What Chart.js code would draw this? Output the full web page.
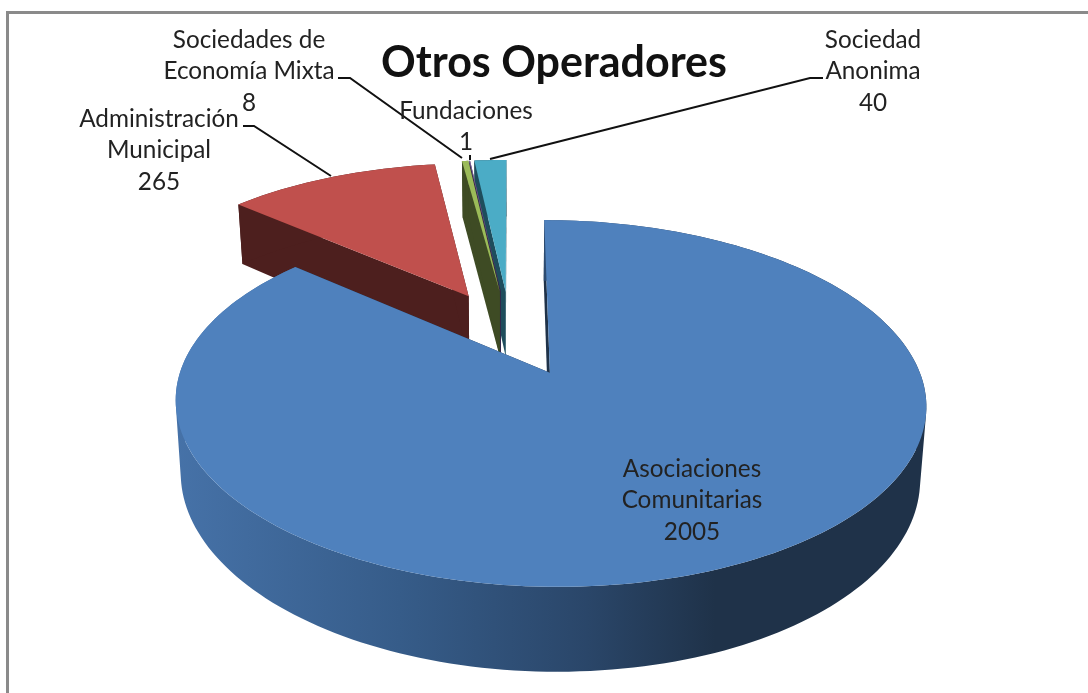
<!DOCTYPE html>
<html>
<head>
<meta charset="utf-8">
<style>
    html, body { margin: 0; padding: 0; background: #fff; }
    canvas { display: block; }
</style>
<script src="https://cdn.jsdelivr.net/npm/chart.js@4"></script>
</head>
<body>
<canvas id="chartCanvas" width="1088" height="693"></canvas>
<script>
const chartTitle = 'Otros Operadores';
const categories = [
    ['Asociaciones', 'Comunitarias'],
    ['Administración', 'Municipal'],
    ['Sociedades de', 'Economía Mixta'],
    ['Fundaciones'],
    ['Sociedad', 'Anonima']
];
const values = [2005, 265, 8, 1, 40];
const topColors = ['#4f81bd', '#c0504d', '#9bbb59', '#8064a2', '#4bacc6'];
const wallColors = ['#1f3249', '#4d1f1e', '#3e4b24', '#33284a', '#1e4d5c'];

// donde va cada etiqueta (centro de la primera linea) y su linea guia
const labelSpots = [
    { x: 692, y: 469, line: null },
    { x: 159, y: 119, line: [[243, 126], [254, 126], [331, 176]] },
    { x: 249, y: 40, line: [[338, 78], [350, 78], [462, 158]] },
    { x: 466, y: 111, line: [[470, 155], [470, 160]] },
    { x: 873, y: 40, line: [[823, 78], [810, 78], [490, 159]] }
];
const lineGap = 31.5;
// orden de pintado, de atras hacia adelante
const paintOrder = [4, 3, 2, 1, 0];

// camara de la tarta 3D
const cam = { cx: 510.5, cy: 332.5, a: 356, b: 165, p: 0.161, depth: 68, shrink: 0.015, explode: 0.258 };

function project(x, y, z) {
    const w = 1 - cam.p * y;
    return [
        cam.cx + cam.a * x / w * (1 - cam.shrink * z),
        cam.cy + cam.b * y / w + cam.depth * z / w
    ];
}

function tracePolygon(ctx, pts) {
    pts.forEach((p, i) => i ? ctx.lineTo(p[0], p[1]) : ctx.moveTo(p[0], p[1]));
    ctx.closePath();
}

function polygon(ctx, pts, fill) {
    ctx.beginPath();
    tracePolygon(ctx, pts);
    ctx.fillStyle = fill;
    ctx.fill();
}

function signedArea(pts) {
    let sum = 0;
    pts.forEach((p, i) => {
        const q = pts[(i + 1) % pts.length];
        sum += p[0] * q[1] - q[0] * p[1];
    });
    return sum;
}

function drawSlice(ctx, arc, index) {
    const { startAngle, endAngle } = arc.getProps(['startAngle', 'endAngle'], true);
    const mid = (startAngle + endAngle) / 2;
    const ox = Math.cos(mid) * cam.explode;
    const oy = Math.sin(mid) * cam.explode;
    const rim = [];
    const steps = Math.max(2, Math.ceil((endAngle - startAngle) * 40));
    for (let i = 0; i <= steps; i++) {
        const t = startAngle + (endAngle - startAngle) * i / steps;
        rim.push([ox + Math.cos(t), oy + Math.sin(t)]);
    }
    const first = rim[0];
    const last = rim[rim.length - 1];
    const at = (p, z) => project(p[0], p[1], z);
    const apex = [ox, oy];

    // paredes radiales
    polygon(ctx, [at(apex, 0), at(first, 0), at(first, 1), at(apex, 1)], wallColors[index]);
    polygon(ctx, [at(apex, 0), at(last, 0), at(last, 1), at(apex, 1)], wallColors[index]);

    // pared exterior: todos los tramos en un solo trazado para que no queden costuras
    let wallFill = wallColors[index];
    if (index === 0) {
        wallFill = ctx.createLinearGradient(174, 0, 926, 0);
        wallFill.addColorStop(0, '#4672a8');
        wallFill.addColorStop(0.3, '#365c89');
        wallFill.addColorStop(0.55, '#2a4669');
        wallFill.addColorStop(0.72, '#1f3249');
        wallFill.addColorStop(1, '#1f3249');
    }
    ctx.beginPath();
    for (let i = 0; i < rim.length - 1; i++) {
        const quad = [at(rim[i], 0), at(rim[i + 1], 0), at(rim[i + 1], 1), at(rim[i], 1)];
        tracePolygon(ctx, signedArea(quad) < 0 ? quad.reverse() : quad);
    }
    ctx.fillStyle = wallFill;
    ctx.fill();

    // cara superior
    polygon(ctx, [at(apex, 0)].concat(rim.map(p => at(p, 0))), topColors[index]);
}

const pie3d = {
    id: 'pie3d',
    beforeDraw(chart) {
        const ctx = chart.ctx;
        ctx.save();
        ctx.fillStyle = '#8a8a8a';
        ctx.fillRect(6, 11, 1082, 3);
        ctx.fillRect(6, 11, 3, 682);
        ctx.restore();
    },
    beforeDatasetDraw(chart, args) {
        const ctx = chart.ctx;
        const arcs = args.meta.data;
        ctx.save();
        paintOrder.forEach(i => drawSlice(ctx, arcs[i], i));
        ctx.restore();
        return false;
    },
    afterDatasetsDraw(chart) {
        const ctx = chart.ctx;
        ctx.save();
        ctx.strokeStyle = '#111';
        ctx.lineWidth = 2;
        labelSpots.forEach(spot => {
            if (!spot.line) return;
            ctx.beginPath();
            spot.line.forEach((p, i) => i ? ctx.lineTo(p[0], p[1]) : ctx.moveTo(p[0], p[1]));
            ctx.stroke();
        });
        ctx.fillStyle = '#222';
        ctx.font = '24.3px Lato';
        ctx.textAlign = 'center';
        ctx.textBaseline = 'middle';
        categories.forEach((lines, i) => {
            const spot = labelSpots[i];
            lines.concat(String(values[i])).forEach((text, n) => {
                ctx.fillText(text, spot.x, spot.y + n * lineGap);
            });
        });
        ctx.restore();
    }
};

new Chart(document.getElementById('chartCanvas').getContext('2d'), {
    type: 'pie',
    data: {
        labels: categories,
        datasets: [{ data: values, backgroundColor: topColors, borderWidth: 0 }]
    },
    plugins: [pie3d],
    options: {
        responsive: false,
        animation: false,
        layout: { padding: { left: 20 } },
        plugins: {
            legend: { display: false },
            tooltip: { enabled: false },
            title: {
                display: true,
                text: chartTitle,
                fullSize: false,
                color: '#111',
                font: { family: 'Lato', size: 43, weight: 'bold' },
                padding: { top: 37, bottom: 0 }
            }
        }
    }
});
</script>
</body>
</html>
